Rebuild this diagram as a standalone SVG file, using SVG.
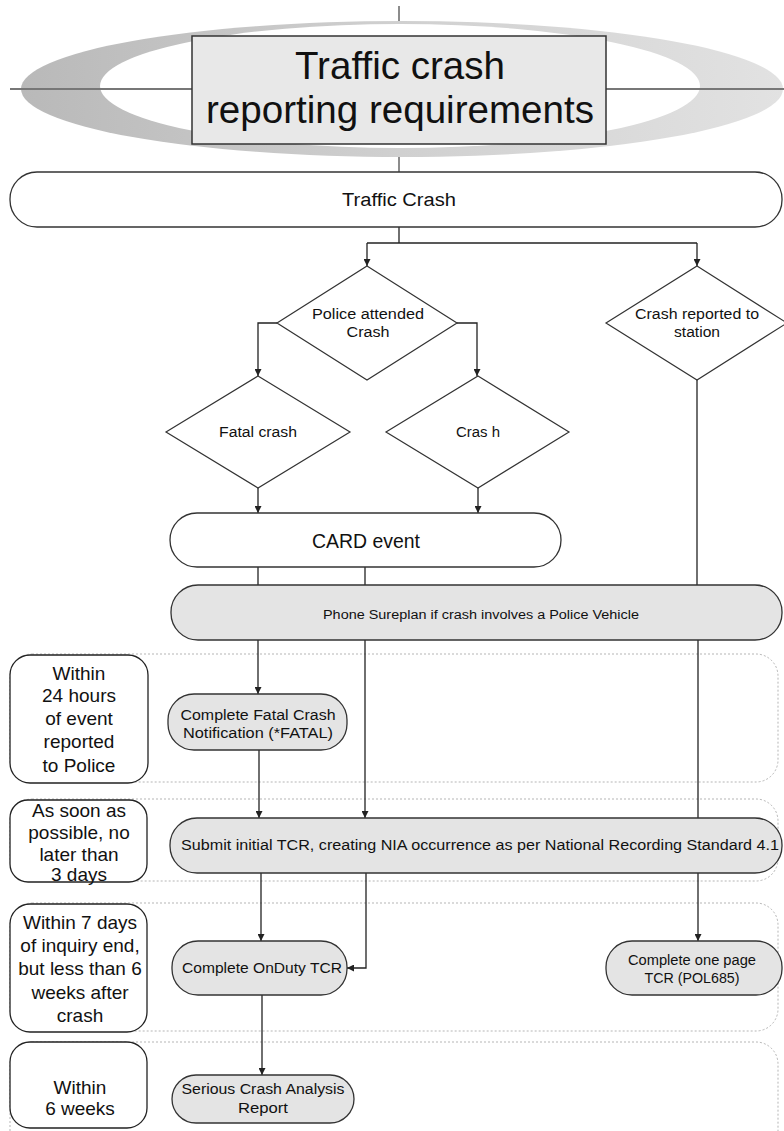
<svg xmlns="http://www.w3.org/2000/svg" width="784" height="1131" viewBox="0 0 784 1131">
<defs>
<linearGradient id="ring" x1="0" y1="0" x2="1" y2="0">
<stop offset="0" stop-color="#b9b9b9"/>
<stop offset="0.5" stop-color="#d0d0d0"/>
<stop offset="1" stop-color="#e2e2e2"/>
</linearGradient>
<marker id="arr" markerWidth="7" markerHeight="7" refX="7" refY="3.5" orient="auto" markerUnits="userSpaceOnUse">
<path d="M0,0 L7,3.5 L0,7 z" fill="#222"/>
</marker>
</defs>
<style>
text{font-family:"Liberation Sans",Arial,sans-serif;fill:#111;text-anchor:middle}
.term{fill:#fff;stroke:#333;stroke-width:1.3}
.proc{fill:#e4e4e4;stroke:#333;stroke-width:1.3}
.dia{fill:#fff;stroke:#333;stroke-width:1.2}
.lane{fill:none;stroke:#b5b5b5;stroke-width:1;stroke-dasharray:2 2}
.lbl{fill:#fff;stroke:#222;stroke-width:1.3}
.c{fill:none;stroke:#222;stroke-width:1.3}
.ca{fill:none;stroke:#222;stroke-width:1.3;marker-end:url(#arr)}
.lt{font-size:19px}
.s{font-size:14px}
</style>

<g id="title">
<line x1="399" y1="6" x2="399" y2="172" stroke="#666" stroke-width="1.5"/>
<ellipse cx="402" cy="89" rx="381" ry="68" fill="url(#ring)"/>
<ellipse cx="400" cy="86" rx="300" ry="62" fill="#fff"/>
<line x1="10" y1="89" x2="784" y2="89" stroke="#777" stroke-width="2"/>
<rect x="192" y="36" width="414" height="108" fill="#e8e8e8" stroke="#333" stroke-width="1.5"/>
<text x="400" y="79" font-size="39" textLength="210" lengthAdjust="spacingAndGlyphs">Traffic crash</text>
<text x="400" y="123" font-size="39" textLength="388" lengthAdjust="spacingAndGlyphs">reporting requirements</text>
</g>

<g id="lanes">
<rect class="lane" x="10" y="654" width="768" height="128" rx="22"/>
<rect class="lane" x="10" y="799" width="768" height="82" rx="22"/>
<rect class="lane" x="10" y="903" width="768" height="128" rx="22"/>
<rect class="lane" x="10" y="1042" width="768" height="120" rx="22"/>
</g>

<g id="connectors">
<path class="c" d="M399,227 V243"/>
<path class="c" d="M367,243 H697"/>
<path class="ca" d="M367,243 V266"/>
<path class="ca" d="M697,243 V266"/>
<path class="ca" d="M277,323 H258 V376"/>
<path class="ca" d="M457,323 H477 V376"/>
<path class="ca" d="M258,488 V513"/>
<path class="ca" d="M478,488 V513"/>
<path class="c" d="M258,567 V585"/>
<path class="c" d="M365,567 V585"/>
<path class="c" d="M697,380 V585"/>
<path class="ca" d="M258,640 V694"/>
<path class="ca" d="M259,750 V818"/>
<path class="ca" d="M365,640 V818"/>
<path class="c" d="M698,640 V818"/>
<path class="ca" d="M261,873 V941"/>
<path class="ca" d="M366,873 V968 H347"/>
<path class="ca" d="M698,873 V941"/>
<path class="ca" d="M262,995 V1075"/>
</g>

<g id="traffic-crash">
<rect class="term" x="10" y="172" width="772" height="55" rx="27"/>
<text x="399" y="206" font-size="18" textLength="114" lengthAdjust="spacingAndGlyphs">Traffic Crash</text>
</g>

<g id="police-attended">
<polygon class="dia" points="367,266 457,323 367,380 277,323"/>
<text x="368" y="319" class="s" textLength="112" lengthAdjust="spacingAndGlyphs">Police attended</text>
<text x="368" y="337" class="s" textLength="43" lengthAdjust="spacingAndGlyphs">Crash</text>
</g>

<g id="crash-reported">
<polygon class="dia" points="697,266 787,323 697,380 606,323"/>
<text x="697" y="319" class="s" textLength="124" lengthAdjust="spacingAndGlyphs">Crash reported to</text>
<text x="697" y="337" class="s" textLength="46" lengthAdjust="spacingAndGlyphs">station</text>
</g>

<g id="fatal-crash">
<polygon class="dia" points="258,376 350,432 258,488 166,432"/>
<text x="258" y="437" class="s" textLength="78" lengthAdjust="spacingAndGlyphs">Fatal crash</text>
</g>

<g id="crash">
<polygon class="dia" points="478,376 569,432 478,488 386,432"/>
<text x="478" y="437" class="s" textLength="44" lengthAdjust="spacingAndGlyphs">Cras h</text>
</g>

<g id="card-event">
<rect class="term" x="170" y="513" width="391" height="54" rx="27"/>
<text x="366" y="548" font-size="20" textLength="108" lengthAdjust="spacingAndGlyphs">CARD event</text>
</g>

<g id="phone-sureplan">
<rect class="proc" x="171" y="585" width="611" height="55" rx="27"/>
<text x="481" y="619" font-size="12" textLength="316" lengthAdjust="spacingAndGlyphs">Phone Sureplan if crash involves a Police Vehicle</text>
</g>

<g id="label-24h">
<rect class="lbl" x="10" y="655" width="138" height="128" rx="20"/>
<text x="79" y="680" class="lt">Within</text>
<text x="79" y="702" class="lt">24 hours</text>
<text x="79" y="725" class="lt">of event</text>
<text x="79" y="748" class="lt">reported</text>
<text x="79" y="772" class="lt">to Police</text>
</g>

<g id="fatal-notification">
<rect class="proc" x="168" y="694" width="179" height="56" rx="26"/>
<text x="258" y="720" font-size="14" textLength="155" lengthAdjust="spacingAndGlyphs">Complete Fatal Crash</text>
<text x="258" y="738" font-size="14" textLength="150" lengthAdjust="spacingAndGlyphs">Notification (*FATAL)</text>
</g>

<g id="label-3days">
<rect class="lbl" x="10" y="800" width="137" height="82" rx="18"/>
<text x="79" y="817" class="lt">As soon as</text>
<text x="79" y="839" class="lt">possible, no</text>
<text x="79" y="861" class="lt">later than</text>
<text x="79" y="881" class="lt">3 days</text>
</g>

<g id="submit-tcr">
<rect class="proc" x="170" y="818" width="612" height="55" rx="27"/>
<text x="480" y="850" font-size="14" textLength="598" lengthAdjust="spacingAndGlyphs">Submit initial TCR, creating NIA occurrence as per National Recording Standard 4.1</text>
</g>

<g id="label-7days">
<rect class="lbl" x="10" y="904" width="137" height="128" rx="20"/>
<text x="80" y="929" class="lt">Within 7 days</text>
<text x="80" y="952" class="lt">of inquiry end,</text>
<text x="80" y="975" class="lt">but less than 6</text>
<text x="80" y="999" class="lt">weeks after</text>
<text x="80" y="1022" class="lt">crash</text>
</g>

<g id="onduty-tcr">
<rect class="proc" x="172" y="941" width="175" height="54" rx="26"/>
<text x="262" y="973" font-size="14" textLength="160" lengthAdjust="spacingAndGlyphs">Complete OnDuty TCR</text>
</g>

<g id="one-page-tcr">
<rect class="proc" x="606" y="941" width="176" height="54" rx="26"/>
<text x="692" y="965" font-size="14" textLength="128" lengthAdjust="spacingAndGlyphs">Complete one page</text>
<text x="692" y="983" font-size="14" textLength="95" lengthAdjust="spacingAndGlyphs">TCR (POL685)</text>
</g>

<g id="label-6weeks">
<rect class="lbl" x="10" y="1042" width="137" height="86" rx="20"/>
<text x="80" y="1094" class="lt">Within</text>
<text x="80" y="1115" class="lt">6 weeks</text>
</g>

<g id="serious-crash">
<rect class="proc" x="172" y="1075" width="182" height="48" rx="24"/>
<text x="263" y="1094" font-size="14" textLength="163" lengthAdjust="spacingAndGlyphs">Serious Crash Analysis</text>
<text x="263" y="1113" font-size="14" textLength="50" lengthAdjust="spacingAndGlyphs">Report</text>
</g>
</svg>
